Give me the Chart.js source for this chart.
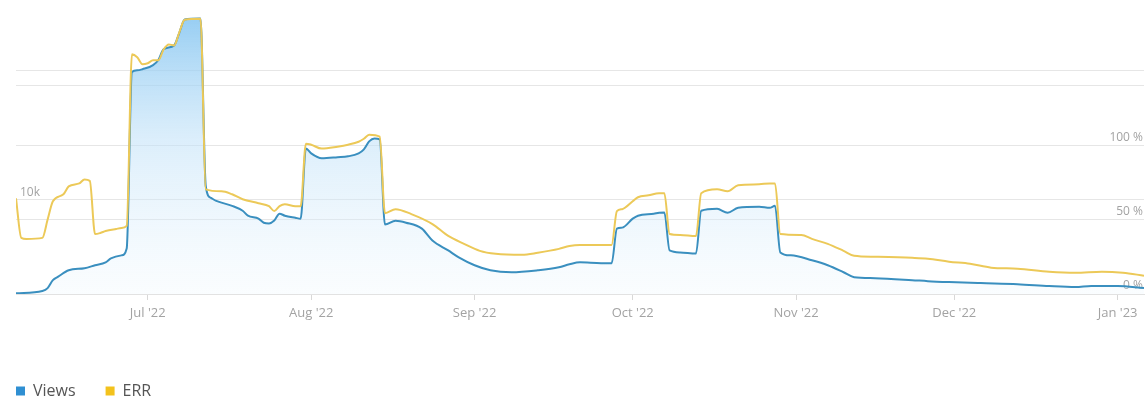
<!DOCTYPE html>
<html>
<head>
<meta charset="utf-8">
<script src="https://cdn.jsdelivr.net/npm/chart.js@4/dist/chart.umd.min.js"></script>
<style>
  html, body { margin: 0; padding: 0; background: #ffffff; }
  #wrap { position: relative; width: 1148px; height: 409px; }
</style>
</head>
<body>
<div id="wrap"><canvas id="chart"></canvas></div>
<script>
// Day numbers count from 1 June 2022 (day 0).
const monthTicks = [30, 61, 92, 122, 153, 183, 214];
const monthLabels = ["Jul '22", "Aug '22", "Sep '22", "Oct '22", "Nov '22", "Dec '22", "Jan '23"];

// Views per day (thousands), left axis
const viewsDays = [5, 10, 11, 12, 13, 15, 18, 20, 22, 23, 25, 26, 27, 28, 29, 31, 32, 33, 35, 36, 37, 40,
  41, 42, 43, 46, 48, 49, 51, 52, 53, 54, 55, 56, 58, 59, 60, 61, 63, 66, 68, 70, 71, 72, 73, 74,
  75, 77, 79, 82, 84, 87, 89, 92, 95, 99, 104, 108, 110, 112, 116, 118, 119, 120, 122, 123, 126, 127, 128,
  129, 131, 134, 135, 138, 140, 142, 146, 148, 149, 150, 152, 156, 159, 162, 164, 168, 175, 178, 182,
  188, 195, 201, 206, 209, 214, 219];
const viewsK = [1.85, 2.05, 2.3, 3.0, 3.3, 3.86, 4.04, 4.3, 4.55, 4.9, 5.16, 5.76, 21.15, 21.3, 21.4, 21.75, 22.2, 23.14, 23.48, 24.6, 25.73, 25.82,
  11.21, 10.17, 9.91, 9.48, 9.05, 8.62, 8.36, 8.01, 7.95, 8.2, 8.8, 8.62, 8.44, 8.36, 14.49, 14.06, 13.63, 13.72, 13.8, 14.06, 14.41, 15.1, 15.36, 15.27,
  7.85, 8.18, 8.01, 7.49, 6.46, 5.59, 4.99, 4.30, 3.86, 3.69, 3.86, 4.12, 4.38, 4.55, 4.47, 4.47, 7.49, 7.58, 8.36, 8.62, 8.79, 8.88, 8.9,
  5.59, 5.42, 5.33, 9.05, 9.22, 8.88, 9.31, 9.40, 9.31, 9.48, 5.42, 5.16, 4.73, 4.30, 3.69, 3.26, 3.17, 3.0, 2.91, 2.83,
  2.74, 2.65, 2.48, 2.39, 2.48, 2.48, 2.31];

// ERR per day (%), right axis
const errDays = [5, 6, 7, 10, 11, 12, 14, 15, 17, 18, 19, 20, 21, 22, 24, 25, 26, 27, 28, 29, 30, 31, 32, 33, 34, 35, 36, 37, 40,
  41, 44, 46, 48, 51, 53, 54, 55, 56, 58, 59, 60, 61, 63, 66, 68, 70, 71, 72, 74,
  75, 77, 80, 84, 87, 90, 93, 96, 101, 104, 108, 110, 112, 117, 118, 119, 120, 122, 123, 125, 127, 128,
  129, 131, 134, 135, 138, 140, 142, 146, 148, 149, 150, 154, 156, 159, 162, 164, 168, 175, 178, 182,
  186, 190, 195, 201, 206, 211, 215, 219];
const errPct = [64.3, 37.7, 37.0, 37.7, 50, 62.3, 67.0, 72.3, 74.3, 77.0, 76, 40.3, 41.0, 42.3, 43.7, 44.3, 45.7, 161.0, 159.0, 154.3, 155, 157.0, 157, 164.3, 167.7, 167.0, 176, 184.3, 185.0,
  70.3, 69.0, 67.0, 63.7, 61.0, 59.0, 55.7, 59.0, 60.3, 59.0, 59.0, 101.0, 100.3, 97.7, 99.0, 100.3, 102.3, 104.3, 107.0, 105.7,
  54.3, 57.0, 53.7, 47.0, 39.0, 33.7, 29.0, 27.0, 26.3, 27.7, 30.3, 32.3, 33.0, 33.0, 33.0, 55.7, 57.0, 62.3, 65.0, 66.3, 67.7, 67.7,
  40.3, 39.7, 39.0, 67.7, 70.3, 69.0, 73.0, 73.7, 74.3, 74.3, 40.3, 39.7, 37.0, 33.7, 29.0, 25.7, 25.0, 24.3, 23.7, 21.7,
  20.3, 17.7, 17.0, 15.0, 14.3, 15.0, 14.3, 12.3];

// Axis ticks
const viewsTicks = [10000, 20000];
const viewsTickLabels = ['10k', ''];
const errTicks = [0, 50, 100, 150];
const errTickLabels = ['0 %', '50 %', '100 %', ''];

const FONT = "'Open Sans', 'DejaVu Sans', sans-serif";
const AXIS_TEXT = '#a3a3a3';
const GRID = '#e6e6e6';
const VIEWS_LINE = '#3a8fbf';
const ERR_LINE = '#ecc958';
const VIEWS_KEY = '#2f8fd2';
const ERR_KEY = '#f3c21c';

// Legend item spacing; the left axis box is widened by the same amount
// the layout is pulled left, so the plot still starts 16px in.
const LEGEND_GAP = 30;
const PLOT_LEFT = 16;

const viewsPoints = viewsDays.map((d, i) => ({ x: d, y: viewsK[i] * 1000 }));
const errPoints = errDays.map((d, i) => ({ x: d, y: errPct[i] }));

function areaGradient(context) {
  const chart = context.chart;
  const area = chart.chartArea;
  if (!area) return 'rgba(160,210,245,0.4)';
  const g = chart.ctx.createLinearGradient(0, area.top, 0, area.bottom);
  g.addColorStop(0, 'rgba(128,195,240,0.85)');
  g.addColorStop(0.45, 'rgba(190,224,248,0.55)');
  g.addColorStop(1, 'rgba(235,246,253,0.25)');
  return g;
}

new Chart(document.getElementById('chart'), {
  type: 'line',
  data: {
    datasets: [
      {
        label: 'Views',
        data: viewsPoints,
        yAxisID: 'views',
        borderColor: VIEWS_LINE,
        borderWidth: 2,
        backgroundColor: areaGradient,
        fill: 'start',
        pointRadius: 0,
        cubicInterpolationMode: 'monotone',
        order: 1
      },
      {
        label: 'ERR',
        data: errPoints,
        yAxisID: 'err',
        borderColor: ERR_LINE,
        borderWidth: 2,
        backgroundColor: 'rgba(0,0,0,0)',
        fill: false,
        pointRadius: 0,
        cubicInterpolationMode: 'monotone',
        order: 0
      }
    ]
  },
  options: {
    responsive: true,
    maintainAspectRatio: false,
    devicePixelRatio: 1,
    animation: false,
    layout: { padding: { top: 8, left: PLOT_LEFT - LEGEND_GAP, right: 0, bottom: 0 } },
    plugins: {
      tooltip: { enabled: false },
      legend: {
        position: 'bottom',
        align: 'start',
        labels: {
          boxWidth: 9,
          boxHeight: 9,
          padding: LEGEND_GAP,
          color: '#555555',
          font: { family: FONT, size: 16 },
          useBorderRadius: true,
          borderRadius: 1.5,
          sort: (a, b) => a.datasetIndex - b.datasetIndex,
          generateLabels: (chart) => chart.data.datasets.map((ds, i) => ({
            text: ds.label,
            fillStyle: i === 0 ? VIEWS_KEY : ERR_KEY,
            strokeStyle: i === 0 ? VIEWS_KEY : ERR_KEY,
            lineWidth: 0,
            fontColor: '#555555',
            hidden: !chart.isDatasetVisible(i),
            datasetIndex: i
          }))
        }
      }
    },
    scales: {
      x: {
        type: 'linear',
        min: 5,
        max: 219,
        afterBuildTicks: (s) => { s.ticks = monthTicks.map(v => ({ value: v })); },
        afterFit: (s) => { s.height = 59; },
        ticks: {
          color: AXIS_TEXT,
          font: { family: FONT, size: 13 },
          padding: 5,
          maxRotation: 0,
          autoSkip: false,
          callback: (v) => monthLabels[monthTicks.indexOf(v)]
        },
        grid: { drawOnChartArea: false, tickLength: 6, color: '#d8d8d8' },
        border: { display: true, color: '#e2e2e2' }
      },
      views: {
        type: 'linear',
        position: 'left',
        min: 1790,
        max: 26460,
        afterBuildTicks: (s) => { s.ticks = viewsTicks.map(v => ({ value: v })); },
        afterFit: (s) => { s.width = LEGEND_GAP; },
        ticks: {
          mirror: true,
          padding: 4,
          labelOffset: -7,
          color: AXIS_TEXT,
          font: { family: FONT, size: 12 },
          callback: (v) => viewsTickLabels[viewsTicks.indexOf(v)]
        },
        grid: { color: GRID, drawTicks: false },
        border: { display: false }
      },
      err: {
        type: 'linear',
        position: 'right',
        min: 0,
        max: 190,
        afterBuildTicks: (s) => { s.ticks = errTicks.map(v => ({ value: v })); },
        afterFit: (s) => { s.width = 4; },
        ticks: {
          mirror: true,
          padding: -1,
          labelOffset: -8,
          color: AXIS_TEXT,
          font: { family: FONT, size: 12 },
          callback: (v) => errTickLabels[errTicks.indexOf(v)]
        },
        grid: { color: GRID, drawTicks: false },
        border: { display: false }
      }
    }
  }
});
</script>
</body>
</html>
